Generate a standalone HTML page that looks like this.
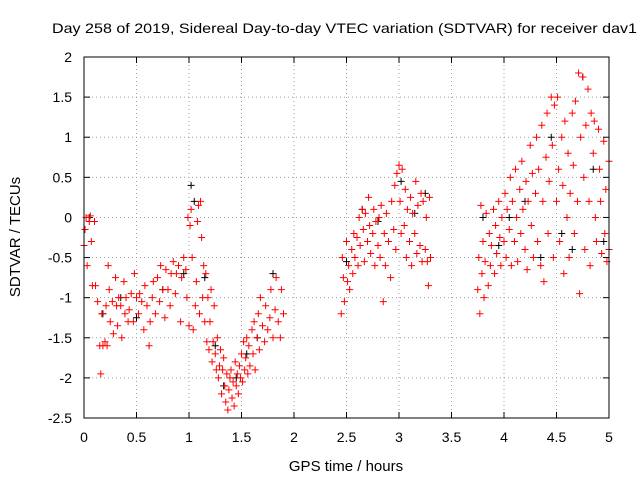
<!DOCTYPE html>
<html><head><meta charset="utf-8"><style>
html,body{margin:0;padding:0;background:#fff}
svg{display:block;font-family:"Liberation Sans",sans-serif}
</style></head><body>
<svg id="chart" width="640" height="480" xmlns="http://www.w3.org/2000/svg">
<text x="52" y="33" font-size="14" textLength="585" lengthAdjust="spacingAndGlyphs">Day 258 of 2019, Sidereal Day-to-day VTEC variation (SDTVAR) for receiver dav1</text>
<text transform="translate(20,237) rotate(-90)" font-size="15" text-anchor="middle">SDTVAR / TECUs</text>
<text x="346" y="471" font-size="15" text-anchor="middle">GPS time / hours</text>
<g id="grid"></g>
<g id="ticks"></g>
<g id="black-series"></g>
<g id="red-series"></g>
<rect x="84" y="57" width="525" height="361" fill="none" stroke="#000" stroke-width="1"/>
</svg>
<script>
const xTicks=[0,0.5,1,1.5,2,2.5,3,3.5,4,4.5,5];
const xTickLabels=["0","0.5","1","1.5","2","2.5","3","3.5","4","4.5","5"];
const yTicks=[-2.5,-2,-1.5,-1,-0.5,0,0.5,1,1.5,2];
const yTickLabels=["-2.5","-2","-1.5","-1","-0.5","0","0.5","1","1.5","2"];
const redT=[0,0.01,0.02,0.03,0.05,0.06,0.07,0.08,0.1,0.11,0.13,0.15,0.16,0.17,0.18,0.2,0.21,0.22,0.23,0.24,0.25,0.27,0.28,0.3,0.31,0.32,0.33,0.35,0.36,0.38,0.39,0.4,0.42,0.43,0.45,0.47,0.48,0.5,0.52,0.53,0.55,0.57,0.58,0.6,0.62,0.63,0.65,0.66,0.68,0.7,0.72,0.73,0.75,0.77,0.78,0.8,0.82,0.83,0.85,0.87,0.88,0.9,0.92,0.93,0.95,0.97,0.98,0.99,1.0,1.01,1.02,1.03,1.04,1.06,1.07,1.08,1.09,1.1,1.11,1.12,1.13,1.14,1.15,1.16,1.17,1.18,1.19,1.2,1.21,1.22,1.23,1.24,1.25,1.26,1.27,1.28,1.29,1.3,1.31,1.32,1.33,1.34,1.35,1.36,1.37,1.38,1.39,1.4,1.41,1.42,1.43,1.44,1.45,1.46,1.47,1.48,1.49,1.5,1.51,1.52,1.53,1.54,1.55,1.56,1.57,1.58,1.6,1.61,1.62,1.63,1.65,1.66,1.67,1.68,1.7,1.72,1.73,1.75,1.77,1.78,1.8,1.82,1.83,1.85,1.87,1.88,1.9,
2.45,2.46,2.47,2.48,2.5,2.51,2.52,2.53,2.55,2.56,2.57,2.58,2.6,2.61,2.62,2.63,2.65,2.66,2.67,2.68,2.7,2.71,2.72,2.73,2.75,2.76,2.77,2.78,2.8,2.81,2.82,2.83,2.85,2.86,2.87,2.88,2.9,2.92,2.93,2.95,2.96,2.97,2.98,3.0,3.01,3.02,3.03,3.05,3.06,3.07,3.08,3.1,3.11,3.12,3.13,3.15,3.16,3.17,3.18,3.2,3.21,3.22,3.23,3.25,3.26,3.27,3.28,3.29,3.3,
3.75,3.76,3.77,3.78,3.79,3.8,3.81,3.82,3.83,3.85,3.86,3.87,3.88,3.9,3.91,3.92,3.93,3.95,3.96,3.97,3.98,4.0,4.01,4.02,4.03,4.05,4.06,4.07,4.08,4.1,4.11,4.12,4.13,4.15,4.16,4.17,4.18,4.2,4.21,4.22,4.23,4.25,4.26,4.27,4.28,4.3,4.31,4.32,4.33,4.35,4.36,4.37,4.38,4.4,4.41,4.42,4.43,4.45,4.46,4.47,4.48,4.5,4.51,4.52,4.53,4.55,4.56,4.57,4.58,4.6,4.61,4.62,4.63,4.65,4.66,4.67,4.68,4.7,4.71,4.72,4.73,4.75,4.76,4.77,4.78,4.8,4.81,4.82,4.83,4.85,4.86,4.87,4.88,4.9,4.91,4.92,4.93,4.95,4.96,4.97,4.98,5.0,5.0];
const redV=[-0.35,-0.15,0,-0.6,-0.05,0.02,-0.3,-0.85,-0.05,-0.85,-1.05,-1.6,-1.95,-1.2,-1.6,-1.55,-1.1,-1.6,-0.6,-0.9,-1.3,-1.05,-1.45,-0.75,-1.1,-1.35,-1.0,-1.1,-1.5,-0.8,-1.2,-1.0,-1.3,-1.15,-0.95,-1.3,-0.7,-1.0,-1.2,-0.95,-1.05,-1.4,-0.85,-1.1,-1.6,-1.3,-1.0,-0.8,-1.2,-0.75,-1.05,-0.6,-0.9,-1.25,-0.65,-0.9,-1.1,-0.7,-0.55,-0.95,-0.7,-0.6,-1.3,-0.75,-0.5,-0.65,-1.0,0,-1.35,-0.1,0.1,-0.5,-1.4,-1.1,-0.8,-0.05,0.15,-1.2,0.2,-0.25,-1.0,-0.6,-1.3,-0.7,-1.55,-1.0,-1.65,-1.3,-0.9,-1.8,-1.55,-1.1,-1.7,-1.9,-1.5,-2.0,-1.85,-1.65,-2.2,-1.9,-1.75,-2.1,-2.3,-1.95,-2.4,-2.15,-2.0,-1.9,-2.25,-2.05,-2.35,-1.8,-2.1,-1.95,-2.2,-1.85,-2.0,-1.7,-2.05,-1.55,-1.9,-1.75,-1.5,-1.95,-1.6,-1.85,-1.4,-1.7,-1.3,-1.9,-1.5,-1.2,-1.65,-1.0,-1.35,-1.55,-1.1,-1.4,-1.25,-0.9,-1.5,-1.15,-0.75,-1.3,-1.5,-0.9,-1.2,
-1.2,-0.5,-0.75,-1.05,-0.3,-0.8,-0.6,-0.9,-0.4,-0.7,-0.2,-0.5,-0.25,-0.6,0,-0.35,0.1,-0.15,-0.55,0.05,-0.3,0.25,-0.1,-0.45,-0.2,0.1,-0.6,-0.05,-0.35,0,-0.5,0.15,-1.05,-0.2,-0.6,0.05,-0.3,-0.75,0.2,-0.15,0.4,-0.4,0.55,0.65,0.2,-0.2,0.6,-0.1,0.35,-0.5,0.1,-0.3,0.25,-0.6,0.05,-0.2,0.45,-0.45,0.15,-0.35,0.3,-0.55,0.2,-0.4,0,-0.55,-0.85,0.25,-0.5,
-0.9,-0.5,-1.2,0.15,-0.7,-0.3,-1.0,-0.55,0.05,-0.85,-0.2,-0.6,-0.35,0.1,-0.7,-0.1,-0.45,0.2,-0.25,-0.6,0,-0.3,0.3,-0.5,0.1,-0.15,0.5,-0.6,0.2,-0.3,0.6,0,-0.55,0.35,-0.2,0.7,0.1,-0.4,0.45,-0.65,0.2,0.9,-0.1,0.55,-0.5,0.3,1.0,-0.3,0.6,-0.6,1.15,0.2,-0.8,0.75,1.3,-0.2,0.45,1.5,0.9,-0.5,1.4,0.2,1.5,0.6,-0.3,1.0,0.4,-0.7,1.2,0,0.8,-0.5,0.3,1.3,0.65,-0.2,1.45,0.2,1.8,-0.95,1.0,1.75,0.5,-0.4,1.15,1.6,0.2,-0.6,1.3,0.8,1.2,0,-0.3,1.1,0.6,0.2,-0.45,0.95,-0.2,0.35,-0.55,0.7,-0.4];
const blackT=[0.05,0.18,0.35,0.5,0.75,0.95,1.02,1.05,1.15,1.25,1.33,1.45,1.55,1.65,1.8,2.5,2.65,2.8,2.9,3.02,3.15,3.25,3.8,3.95,4.05,4.2,4.35,4.45,4.55,4.65,4.75,4.85,4.95];
const blackV=[0,-1.2,-1.0,-1.25,-0.9,-0.7,0.4,0.2,-0.75,-1.6,-2.1,-2.0,-1.7,-1.5,-0.7,-0.55,0.1,-0.05,-0.3,0.45,0.05,0.3,0,-0.35,0,0.2,-0.5,1.0,-0.2,-0.4,1.75,0.6,-0.3];

const NS="http://www.w3.org/2000/svg";
const X0=84,X1=609,Y0=418,Y1=57;
function xs(t){return X0+(t-0)/(5-0)*(X1-X0);}
function ys(v){return Y0-(v+2.5)/(2+2.5)*(Y0-Y1);}
function mk(tag,attrs){const e=document.createElementNS(NS,tag);for(const k in attrs)e.setAttribute(k,attrs[k]);return e;}
const grid=document.getElementById('grid'),ticks=document.getElementById('ticks');
xTicks.forEach((t,i)=>{
  const x=xs(t);
  if(i>0&&i<xTicks.length-1){const g=mk('line',{x1:x,x2:x,y1:Y1,y2:Y0,stroke:'#a0a0a0','stroke-dasharray':'1,3'});
  
  grid.appendChild(g);}
  ticks.appendChild(mk('line',{x1:x,x2:x,y1:Y0,y2:Y0-6,stroke:'#000'}));
  ticks.appendChild(mk('line',{x1:x,x2:x,y1:Y1,y2:Y1+6,stroke:'#000'}));
  const tx=mk('text',{x:x,y:442,'font-size':14,'text-anchor':'middle'});tx.textContent=xTickLabels[i];
  
  ticks.appendChild(tx);
});
yTicks.forEach((v,i)=>{
  const y=ys(v);
  if(i>0&&i<yTicks.length-1){const g=mk('line',{x1:X0,x2:X1,y1:y,y2:y,stroke:'#a0a0a0','stroke-dasharray':'1,3'});
  
  grid.appendChild(g);}
  ticks.appendChild(mk('line',{x1:X0,x2:X0+6,y1:y,y2:y,stroke:'#000'}));
  ticks.appendChild(mk('line',{x1:X1,x2:X1-6,y1:y,y2:y,stroke:'#000'}));
  const tx=mk('text',{x:72,y:y+5,'font-size':14,'text-anchor':'end'});tx.textContent=yTickLabels[i];
  
  ticks.appendChild(tx);
});
function plus(g,t,v,col,name){
  const x=xs(t),y=ys(v);
  const p=mk('path',{d:`M${x-3.5},${y}h7M${x},${y-3.5}v7`,stroke:col,'stroke-width':1,fill:'none'});
  
  
  g.appendChild(p);
}
const bg=document.getElementById('black-series');
blackT.forEach((t,i)=>plus(bg,t,blackV[i],'#000','black-point'));
const rg=document.getElementById('red-series');
redT.forEach((t,i)=>plus(rg,t,redV[i],'#ff0000','red-point'));
</script>
</body></html>
